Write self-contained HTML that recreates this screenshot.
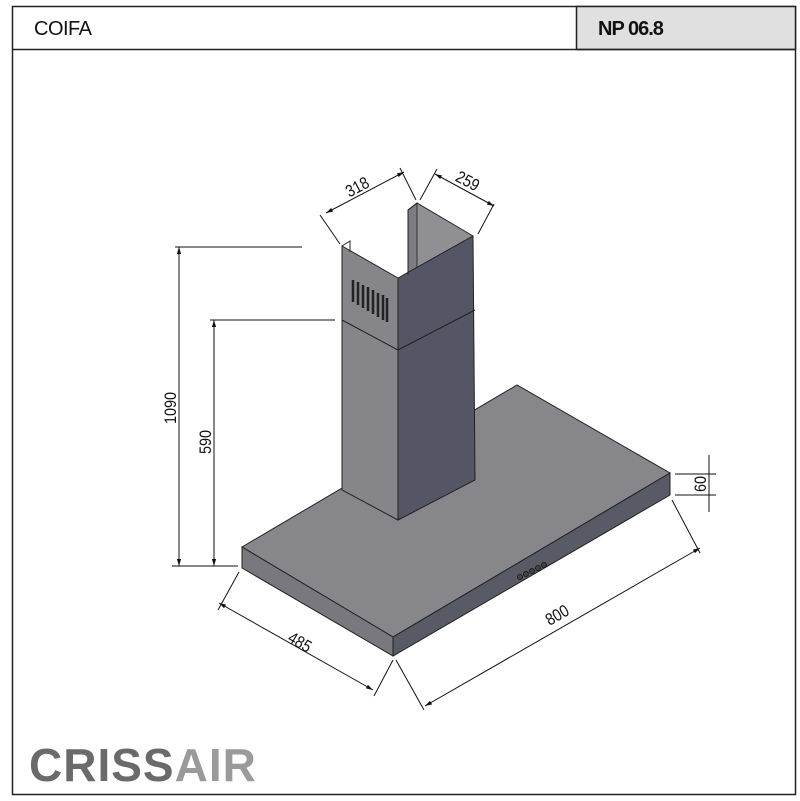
<!DOCTYPE html>
<html><head><meta charset="utf-8"><style>
html,body{margin:0;padding:0;background:#fff;}
svg{display:block;}
text{font-family:"Liberation Sans",Arial,sans-serif;}
</style></head><body>
<svg width="800" height="801" viewBox="0 0 800 801" xmlns="http://www.w3.org/2000/svg">
<defs>
<marker id="a" viewBox="0 0 10 10" refX="10" refY="5" markerWidth="7" markerHeight="7" orient="auto-start-reverse" markerUnits="userSpaceOnUse"><path d="M0,2 L10,5 L0,8 z" fill="#111"/></marker>
</defs>
<rect x="12.5" y="6.5" width="783" height="788" fill="#fff" stroke="#222" stroke-width="1.5"/>
<rect x="576.5" y="6.5" width="219" height="43" fill="#e0e0e0" stroke="#222" stroke-width="1.5"/>
<line x1="12" y1="49.5" x2="796" y2="49.5" stroke="#222" stroke-width="1.5"/>
<text x="34" y="35" font-size="20" fill="#111" letter-spacing="-0.5">COIFA</text>
<text x="598" y="35" font-size="20" font-weight="bold" fill="#111" letter-spacing="-1">NP 06.8</text>

<polygon points="242,547 517,385 670,473 393,637" fill="#87878b" stroke="#222" stroke-width="1"/>
<polygon points="242,547 393,637 393,656 242,568" fill="#78787e" stroke="#222" stroke-width="1"/>
<polygon points="393,637 670,473 670,495 393,656" fill="#585a66" stroke="#222" stroke-width="1"/>
<g fill="#444" stroke="#111" stroke-width="0.8">
<circle cx="520" cy="577" r="2.5"/><circle cx="526" cy="574" r="2.5"/><circle cx="532" cy="571" r="2.5"/><circle cx="538" cy="568" r="2.5"/><circle cx="544" cy="565" r="2.5"/>
</g>

<polygon points="417,203 473,236 473,480 417,450" fill="#8f8f94"/>
<polygon points="408,210 417,203 417,270 408,275" fill="#7c7c82" stroke="#222" stroke-width="0.8"/>
<polygon points="342,246 398,278 398,520 342,490" fill="#85858a" stroke="#222" stroke-width="1"/>
<polygon points="398,278 473,236 475,480 398,520" fill="#545665" stroke="#222" stroke-width="1"/>
<polyline points="342,246 350,241 350,252" fill="none" stroke="#222" stroke-width="1"/>
<polyline points="408,275 408,210 417,203 473,236" fill="none" stroke="#222" stroke-width="1"/>
<polyline points="342,320 398,350 475,310" fill="none" stroke="#222" stroke-width="1"/>
<g stroke="#222" stroke-width="2.5">
<line x1="353" y1="280" x2="353" y2="302"/><line x1="358" y1="282" x2="358" y2="305"/><line x1="363" y1="285" x2="363" y2="308"/><line x1="368" y1="287" x2="368" y2="311"/><line x1="373" y1="290" x2="373" y2="314"/><line x1="378" y1="293" x2="378" y2="317"/><line x1="383" y1="295" x2="383" y2="320"/><line x1="387" y1="298" x2="387" y2="322"/>
</g>

<g stroke="#111" stroke-width="1" fill="none">
<line x1="175" y1="247" x2="302" y2="247"/>
<line x1="210" y1="320" x2="335" y2="320"/>
<line x1="172" y1="566" x2="238" y2="566"/>
<line x1="320" y1="215" x2="340" y2="244"/>
<line x1="400" y1="168" x2="416" y2="200"/>
<line x1="420" y1="200" x2="437" y2="169"/>
<line x1="478" y1="234" x2="494" y2="204"/>
<line x1="239" y1="572" x2="218" y2="610"/>
<line x1="393" y1="660" x2="374" y2="696"/>
<line x1="396" y1="660" x2="424" y2="710"/>
<line x1="672" y1="500" x2="700" y2="553"/>
<line x1="675" y1="474" x2="716" y2="474"/>
<line x1="675" y1="495" x2="716" y2="495"/>
<line x1="709" y1="455" x2="709" y2="512"/>
</g>
<g stroke="#111" stroke-width="1" fill="none" marker-start="url(#a)" marker-end="url(#a)">
<line x1="179" y1="247" x2="179" y2="566"/>
<line x1="214" y1="320" x2="214" y2="566"/>
<line x1="326" y1="213" x2="404" y2="172"/>
<line x1="435" y1="174" x2="494" y2="206"/>
<line x1="219" y1="603" x2="373" y2="690"/>
<line x1="425" y1="706" x2="700" y2="548"/>
</g>
<g font-size="17" fill="#111">
<text transform="translate(176,408) rotate(-90) scale(0.85,1)" text-anchor="middle">1090</text>
<text transform="translate(211,442) rotate(-90) scale(0.85,1)" text-anchor="middle">590</text>
<text transform="translate(360,192) rotate(-28) scale(0.85,1)" text-anchor="middle">318</text>
<text transform="translate(465,186) rotate(28) scale(0.85,1)" text-anchor="middle">259</text>
<text transform="translate(297,647) rotate(30) scale(0.85,1)" text-anchor="middle">485</text>
<text transform="translate(560,620) rotate(-30) scale(0.85,1)" text-anchor="middle">800</text>
<text transform="translate(706,484) rotate(-90) scale(0.85,1)" text-anchor="middle">60</text>
</g>

<text x="29" y="781" font-size="46" font-weight="bold" fill="#6a6a6a" letter-spacing="1"><tspan>CRISS</tspan><tspan fill="#9a9a9a">AIR</tspan></text>
</svg>
</body></html>
